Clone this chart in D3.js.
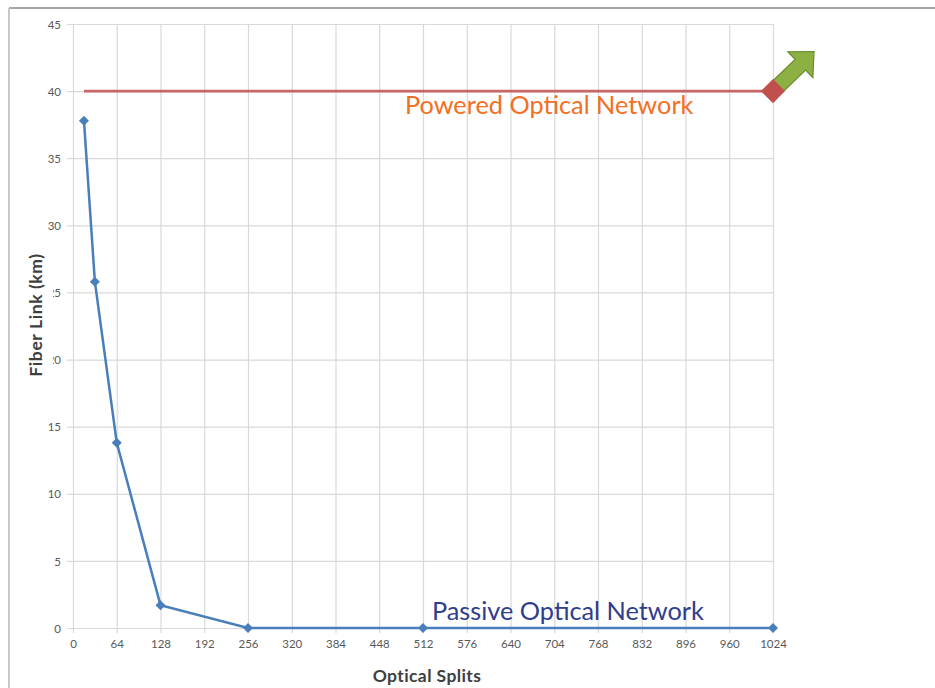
<!DOCTYPE html>
<html>
<head>
<meta charset="utf-8">
<script src="https://cdn.jsdelivr.net/npm/d3@7"></script>
<style>
  html, body { margin: 0; padding: 0; background: #fff; }
  svg { display: block; }
</style>
</head>
<body>
<svg id="chart" width="935" height="688"></svg>
<script>
// ---- data ----
const splits = [16, 32, 64, 128, 256, 512, 1024];
const passiveKm = [37.8, 25.8, 13.8, 1.7, 0, 0, 0];
const poweredSplits = [16, 1024];
const poweredKm = [40, 40];
const xTicks = [0, 64, 128, 192, 256, 320, 384, 448, 512, 576, 640, 704, 768, 832, 896, 960, 1024];
const yTicks = [0, 5, 10, 15, 20, 25, 30, 35, 40, 45];
const labelPowered = "Powered Optical Network";
const labelPassive = "Passive Optical Network";
const xTitle = "Optical Splits";
const yTitle = "Fiber Link (km)";

// ---- layout ----
const svg = d3.select("#chart");
const m = { left: 73, top: 24 };
const W = 700, H = 604;
const font = "Lato, 'Open Sans', sans-serif";

// outer frame (top and left edges visible)
svg.append("line").attr("x1", 9).attr("x2", 935).attr("y1", 8).attr("y2", 8)
  .attr("stroke", "#a6a6a6").attr("stroke-width", 2);
svg.append("line").attr("x1", 9).attr("x2", 9).attr("y1", 8).attr("y2", 688)
  .attr("stroke", "#c8c8c8").attr("stroke-width", 2);

const g = svg.append("g").attr("transform", `translate(${m.left},${m.top})`);

const x = d3.scaleLinear().domain([0, 1024]).range([0, W]);
const y = d3.scaleLinear().domain([0, 45]).range([H, 0]);

// y grid + labels
const yAxis = g.append("g")
  .call(d3.axisLeft(y).tickValues(yTicks).tickSizeInner(-W).tickSizeOuter(0).tickPadding(12).tickFormat(d3.format("d")));
yAxis.select(".domain").remove();
yAxis.selectAll("line").attr("x1", -6).attr("x2", W).attr("stroke", "#d9d9d9").attr("stroke-width", 1.2);
yAxis.selectAll("text").attr("fill", "#595959").attr("font-size", 11.5).attr("font-family", font).attr("dy", "0.36em");

// x grid + labels
const xAxis = g.append("g").attr("transform", `translate(0,${H})`)
  .call(d3.axisBottom(x).tickValues(xTicks).tickSizeInner(-H).tickSizeOuter(0).tickPadding(11).tickFormat(d3.format("d")));
xAxis.select(".domain").remove();
xAxis.selectAll("line").attr("y1", 5).attr("y2", -H).attr("stroke", "#d9d9d9").attr("stroke-width", 1.2);
xAxis.selectAll("text").attr("fill", "#595959").attr("font-size", 11.5).attr("font-family", font).attr("dy", "0.8em");

// axis titles
svg.append("text").attr("x", 427).attr("y", 682).attr("text-anchor", "middle")
  .attr("font-family", font).attr("font-weight", "bold").attr("font-size", 17.5).attr("letter-spacing", 0.4)
  .attr("fill", "#404040")
  .text(xTitle);

const yTitleG = svg.append("g").attr("transform", "translate(42,315) rotate(-90)");
yTitleG.append("rect").attr("x", -66).attr("y", -17).attr("width", 132).attr("height", 28).attr("fill", "#fff");
yTitleG.append("text").attr("text-anchor", "middle").attr("y", 0)
  .attr("font-family", font).attr("font-weight", "bold").attr("font-size", 17.5).attr("letter-spacing", 0.6)
  .attr("fill", "#404040")
  .text(yTitle);

// powered line
const powered = poweredSplits.map((s, i) => [s, poweredKm[i]]);
g.append("path").datum(powered)
  .attr("d", d3.line().x(d => x(d[0])).y(d => y(d[1])))
  .attr("fill", "none").attr("stroke", "#c0504d").attr("stroke-width", 2.6).attr("stroke-opacity", 0.85);

// passive line
const passive = splits.map((s, i) => [s, passiveKm[i]]);
g.append("path").datum(passive)
  .attr("d", d3.line().x(d => x(d[0])).y(d => y(d[1])))
  .attr("fill", "none").attr("stroke", "#4a7ebb").attr("stroke-width", 2.5);

g.selectAll(".pm").data(passive).enter().append("path")
  .attr("transform", d => `translate(${x(d[0])},${y(d[1])}) rotate(45)`)
  .attr("d", d3.symbol().type(d3.symbolSquare).size(50))
  .attr("fill", "#4a7ebb");

// green arrow from end of powered line
const last = powered[powered.length - 1];
const ax = x(last[0]), ay = y(last[1]);
const arrowPts = [[6, -7.5], [38, -7.5], [38, -18], [57, 0], [38, 18], [38, 7.5], [6, 7.5]];
g.append("polygon")
  .attr("transform", `translate(${ax},${ay}) rotate(-44)`)
  .attr("points", arrowPts.map(p => p.join(",")).join(" "))
  .attr("fill", "#8db043").attr("stroke", "#6b8a2e").attr("stroke-width", 1.2).attr("stroke-linejoin", "miter");

// red diamond marker at end
g.append("path")
  .attr("transform", `translate(${ax},${ay}) rotate(45)`)
  .attr("d", d3.symbol().type(d3.symbolSquare).size(290))
  .attr("fill", "#c0504d");

// series labels
svg.append("text").attr("x", 405).attr("y", 114)
  .attr("font-family", font).attr("font-size", 25.3).attr("fill", "#f36f21")
  .text(labelPowered);
svg.append("text").attr("x", 432).attr("y", 620)
  .attr("font-family", font).attr("font-size", 25.3).attr("fill", "#2f3d8f")
  .text(labelPassive);
</script>
</body>
</html>
